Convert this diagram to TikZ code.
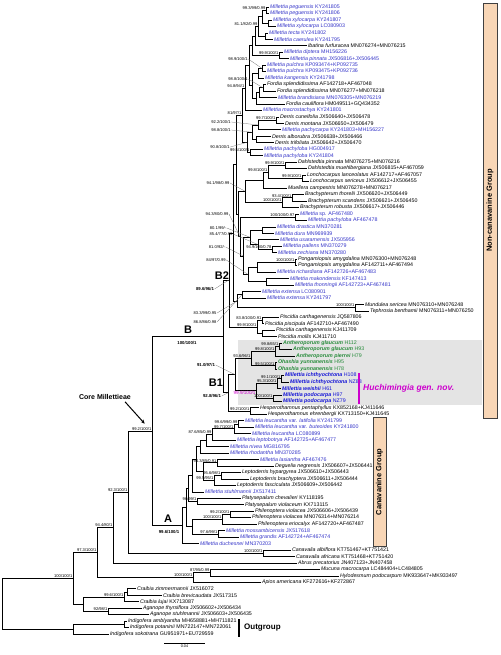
\documentclass[tikz,border=0pt]{standalone}
\usepackage{fontspec}
\setmainfont{Liberation Sans}
\usetikzlibrary{calc,arrows.meta}
\definecolor{milblue}{RGB}{52,52,200}
\definecolor{hucblue}{RGB}{20,20,215}
\definecolor{antgreen}{RGB}{40,140,60}
\definecolor{hmag}{RGB}{205,0,205}
\definecolor{beige}{RGB}{248,214,182}
\definecolor{hgray}{RGB}{228,228,228}

% join of two children, placed half way between them
\newcommand\tclade[4]{%
  \path let \p1=($(#3.west)!0.5!(#4.west)$) in (#2pt,\y1) node[jn] (#1) {};
  \draw[br] (#1.center) |- (#3.west);
  \draw[br] (#1.center) |- (#4.west);
}
% support value at a join
\newcommand\sv[3][]{\node[sup,anchor=south east,#1] (s#2) at (#2.center) {#3};}
\newcommand\svl[4][]{\node[sup,#1] (s#2) at (#3) {#4};\draw[lead] (s#2.east) -- (#2.center);}

\begin{document}
\begin{tikzpicture}[x=1pt,y=-1pt,
  br/.style={line width=0.6pt},
  jn/.style={inner sep=0pt,outer sep=0pt,minimum size=0pt},
  leaf/.style={anchor=west,inner sep=0.8pt,font=\fontsize{5.3}{5.5}\selectfont},
  mil/.style={text=milblue},
  gre/.style={text=antgreen},
  huc/.style={text=hucblue},
  sup/.style={inner sep=0.4pt,font=\fontsize{4.1}{4.2}\selectfont},
  bsup/.style={font=\fontsize{4.3}{4.4}\bfseries\selectfont},
  lead/.style={line width=0.25pt,black!60},
  big/.style={inner sep=0pt,font=\fontsize{11}{11}\bfseries\selectfont},
  grpbox/.style={draw=black!75,fill=beige,line width=0.6pt,rotate=90,inner sep=0pt,font=\fontsize{7.5}{8}\bfseries\selectfont}]
\useasboundingbox (0,0) rectangle (500,655);

% backgrounds
\fill[hgray] (238,339.5) rectangle (482,404.5);
\node[grpbox,minimum width=415pt,minimum height=14pt] (gNon) at (490,210.5) {Non-canavanine Group};
\node[grpbox,minimum width=129pt,minimum height=13pt] (gCan) at (379.5,482) {Canavanine Group};

% tips
\node[leaf,mil] (peg1) at (269,7.0) {\textit{Millettia peguensis} KY241805};
\node[leaf,mil] (peg2) at (269,13.5) {\textit{Millettia peguensis} KY241806};
\node[leaf,mil] (xyl1) at (272,19.9) {\textit{Millettia xylocarpa} KY241807};
\node[leaf,mil] (xyl2) at (276,26.4) {\textit{Millettia xylocarpa} LC080903};
\node[leaf,mil] (tec) at (268,32.9) {\textit{Millettia tecta} KY241802};
\node[leaf,mil] (cae) at (273,39.3) {\textit{Millettia caerulea} KY241795};
\node[leaf] (iba) at (307,45.8) {\textit{Ibatina furfuracea} MN076274+MN076215};
\node[leaf,mil] (dip) at (283,52.2) {\textit{Millettia diptera} MH156226};
\node[leaf,mil] (pin) at (289,58.7) {\textit{Millettia pinnata} JX506816+JX506445};
\node[leaf,mil] (pul1) at (266,65.2) {\textit{Millettia pulchra} KP093474+KP092735};
\node[leaf,mil] (pul2) at (266,71.6) {\textit{Millettia pulchra} KP093475+KP092736};
\node[leaf,mil] (kan) at (264,78.1) {\textit{Millettia kangensis} KY241798};
\node[leaf] (fsp1) at (266,84.6) {\textit{Fordia splendidissima} AF142718+AF467048};
\node[leaf] (fsp2) at (276,91.0) {\textit{Fordia splendidissima} MN076277+MN076218};
\node[leaf,mil] (bra) at (277,97.5) {\textit{Millettia brandisiana} MN076305+MN076219};
\node[leaf] (cau) at (285,104.0) {\textit{Fordia cauliflora} HM049511+GQ434352};
\node[leaf,mil] (mac) at (262,110.4) {\textit{Millettia macrostachya} KY241801};
\node[leaf] (cun) at (279,116.9) {\textit{Derris cuneifolia} JX506640+JX506478};
\node[leaf] (mon) at (284,123.3) {\textit{Derris montana} JX506650+JX506479};
\node[leaf,mil] (pac) at (281,129.8) {\textit{Millettia pachycarpa} KY241803+MH156227};
\node[leaf] (alb) at (271,136.3) {\textit{Derris alborubra} JX506638+JX506466};
\node[leaf] (tri) at (274,142.7) {\textit{Derris trifoliata} JX506642+JX506470};
\node[leaf,mil] (pl1) at (263,149.2) {\textit{Millettia pachyloba} HG004917};
\node[leaf,mil] (pl2) at (263,155.7) {\textit{Millettia pachyloba} KY241804};
\node[leaf] (dpi) at (297,162.1) {\textit{Dahlstedtia pinnata} MN076275+MN076216};
\node[leaf] (dmu) at (307,168.6) {\textit{Dahlstedtia muehlbergiana} JX506815+AF467059};
\node[leaf] (lla) at (306,175.1) {\textit{Lonchocarpus lanceolatus} AF142717+AF467057};
\node[leaf] (lse) at (309,181.5) {\textit{Lonchocarpus sericeus} JX506612+JX506455};
\node[leaf] (mca) at (287,188.0) {\textit{Muellera campestris} MN076278+MN076217};
\node[leaf] (bth) at (304,194.5) {\textit{Brachypterum thorelii} JX506620+JX506449};
\node[leaf] (bsc) at (307,200.9) {\textit{Brachypterum scandens} JX506621+JX506450};
\node[leaf] (bro) at (299,207.4) {\textit{Brachypterum robusta} JX506617+JX506446};
\node[leaf,mil] (msp) at (299,213.8) {\textit{Millettia} sp. AF467480};
\node[leaf,mil] (pla) at (307,220.3) {\textit{Millettia pachyloba} AF467478};
\node[leaf,mil] (dra) at (276,226.8) {\textit{Millettia drastica} MN370281};
\node[leaf,mil] (dur) at (274,233.2) {\textit{Millettia dura} MN969939};
\node[leaf,mil] (usa) at (279,239.7) {\textit{Millettia usaramensis} JX505956};
\node[leaf,mil] (pal) at (282,246.2) {\textit{Millettia pallens} MN370279};
\node[leaf,mil] (zec) at (277,252.6) {\textit{Millettia zechiana} MN370280};
\node[leaf] (pam1) at (297,259.1) {\textit{Pongamiopsis amygdalina} MN076300+MN076248};
\node[leaf] (pam2) at (297,265.5) {\textit{Pongamiopsis amygdalina} AF142711+AF467494};
\node[leaf,mil] (ric) at (276,272.0) {\textit{Millettia richardiana} AF142726+AF467483};
\node[leaf,mil] (mak) at (289,278.5) {\textit{Millettia makondensis} KF147413};
\node[leaf,mil] (tho) at (294,284.9) {\textit{Millettia thonningii} AF142723+AF467481};
\node[leaf,mil] (ext1) at (261,291.4) {\textit{Millettia extensa} LC080901};
\node[leaf,mil] (ext2) at (266,297.9) {\textit{Millettia extensa} KY241797};
\node[leaf] (mun) at (364,304.3) {\textit{Mundulea sericea} MN076310+MN076248};
\node[leaf] (tep) at (369,310.8) {\textit{Tephrosia benthamii} MN076311+MN076250};
\node[leaf] (pca1) at (279,317.3) {\textit{Piscidia carthagenensis} JQ587806};
\node[leaf] (ppi) at (264,323.7) {\textit{Piscidia piscipula} AF142710+AF467490};
\node[leaf] (pca2) at (275,330.2) {\textit{Piscidia carthagenensis} KJ411709};
\node[leaf] (pmo) at (277,336.6) {\textit{Piscidia mollis} KJ411710};
\node[leaf,gre] (ag1) at (282,343.1) {\textbf{\textit{Antheroporum glaucum}} H112};
\node[leaf,gre] (ag2) at (292,349.6) {\textbf{\textit{Antheroporum glaucum}} H93};
\node[leaf,gre] (apr) at (295,356.0) {\textbf{\textit{Antheroporum pierrei}} H79};
\node[leaf,gre] (oy1) at (277,362.5) {\textbf{\textit{Ohashia yunnanensis}} H95};
\node[leaf,gre] (oy2) at (277,369.0) {\textbf{\textit{Ohashia yunnanensis}} H78};
\node[leaf,huc] (mi1) at (284,375.4) {\textbf{\textit{Millettia ichthyochtona}} H108};
\node[leaf,huc] (mi2) at (289,381.9) {\textbf{\textit{Millettia ichthyochtona}} NZ88};
\node[leaf,huc] (mwe) at (281,388.4) {\textbf{\textit{Millettia weishii}} H61};
\node[leaf,huc] (mp1) at (282,394.8) {\textbf{\textit{Millettia podocarpa}} H97};
\node[leaf,huc] (mp2) at (282,401.3) {\textbf{\textit{Millettia podocarpa}} NZ79};
\node[leaf] (hpe) at (259,407.7) {\textit{Hesperothamnus pentaphyllus} KX852168+KJ411646};
\node[leaf] (heh) at (267,414.2) {\textit{Hesperothamnus ehrenbergii} KX713150+KJ411645};
\node[leaf,mil] (ml1) at (244,420.7) {\textit{Millettia leucantha} var. \textit{latifolia} KY241799};
\node[leaf,mil] (ml2) at (254,427.1) {\textit{Millettia leucantha} var. \textit{buteoides} KY241800};
\node[leaf,mil] (ml3) at (251,433.6) {\textit{Millettia leucantha} LC080899};
\node[leaf,mil] (mle) at (236,440.1) {\textit{Millettia leptobotrya} AF142725+AF467477};
\node[leaf,mil] (mni) at (229,446.5) {\textit{Millettia nivea} MG816795};
\node[leaf,mil] (mrh) at (229,453.0) {\textit{Millettia rhodantha} MN370285};
\node[leaf,mil] (mla) at (259,459.5) {\textit{Millettia lasiantha} AF467476};
\node[leaf] (dne) at (274,465.9) {\textit{Deguelia negrensis} JX506607+JX506441};
\node[leaf] (lhy) at (241,472.4) {\textit{Leptoderris hypargyrea} JX506610+JX506443};
\node[leaf] (lbr) at (249,478.8) {\textit{Leptoderris brachyptera} JX506611+JX506444};
\node[leaf] (lfa) at (236,485.3) {\textit{Leptoderris fasciculata} JX506609+JX506442};
\node[leaf,mil] (mst) at (204,491.8) {\textit{Millettia stuhlmannii} JX517411};
\node[leaf] (pch) at (241,498.2) {\textit{Platysepalum chevalieri} KY118195};
\node[leaf] (pvi) at (244,504.7) {\textit{Platysepalum violaceum} KX713115};
\node[leaf] (phv1) at (254,511.2) {\textit{Philenoptera violacea} JX506606+JX506439};
\node[leaf] (phv2) at (251,517.6) {\textit{Philenoptera violacea} MN076314+MN076214};
\node[leaf] (per) at (257,524.1) {\textit{Philenoptera eriocalyx} AF142720+AF467487};
\node[leaf,mil] (mmo) at (225,530.6) {\textit{Millettia mossambicensis} JX517618};
\node[leaf,mil] (mgr) at (239,537.0) {\textit{Millettia grandis} AF142724+AF467474};
\node[leaf,mil] (mdu) at (199,543.5) {\textit{Millettia duchesnei} MN370203};
\node[leaf] (cal) at (291,550.0) {\textit{Canavalia albiflora} KT751467+KT751421};
\node[leaf] (caf) at (295,556.4) {\textit{Canavalia africana} KT751468+KT751420};
\node[leaf] (abr) at (297,562.9) {\textit{Abrus precatorius} JN407123+JN407458};
\node[leaf] (muc) at (320,569.3) {\textit{Mucuna macrocarpa} LC484404+LC484805};
\node[leaf] (hyl) at (339,575.8) {\textit{Hylodesmum podocarpum} MK933647+MK933497};
\node[leaf] (apa) at (261,582.3) {\textit{Apios americana} KF272616+KF272867};
\node[leaf] (czi) at (136,588.7) {\textit{Craibia zimmermannii} JX516072};
\node[leaf] (cbr) at (162,595.2) {\textit{Craibia brevicaudata} JX517315};
\node[leaf] (clu) at (139,601.7) {\textit{Craibia lujai} KX713087};
\node[leaf] (ath) at (142,608.1) {\textit{Aganope thyrsiflora} JX506602+JX506434};
\node[leaf] (ast) at (149,614.6) {\textit{Aganope stuhlmannii} JX506603+JX506435};
\node[leaf] (iam) at (127,621.1) {\textit{Indigofera amblyantha} MH658881+MH711821};
\node[leaf] (ipo) at (129,627.5) {\textit{Indigofera potaninii} MN722147+MN722061};
\node[leaf] (iso) at (109,634.0) {\textit{Indigofera sokotrana} GU951971+EU729559};

% B2
\tclade{A1}{266}{peg1}{peg2}
\tclade{A2}{268}{xyl1}{xyl2}
\tclade{A3}{262}{A1}{A2}
\tclade{A4}{265}{tec}{cae}
\tclade{A5}{258}{A3}{A4}
\tclade{A6}{255}{A5}{iba}
\tclade{A7}{279}{dip}{pin}
\tclade{A8}{252}{A6}{A7}
\tclade{G1}{262}{pul1}{pul2}
\tclade{G2}{258}{G1}{kan}
\tclade{F1}{263}{fsp1}{fsp2}
\tclade{F2}{259}{F1}{bra}
\tclade{F3}{256}{F2}{cau}
\tclade{H1}{252.5}{G2}{F3}
\tclade{H2}{249}{A8}{H1}
\tclade{H3}{245}{H2}{mac}
\tclade{D1}{276}{cun}{mon}
\tclade{D2}{258}{D1}{pac}
\tclade{D3}{256}{alb}{tri}
\tclade{D4}{252}{D2}{D3}
\tclade{D5}{250}{pl1}{pl2}
\tclade{D6}{247}{D4}{D5}
\tclade{X}{242}{H3}{D6}
\tclade{Y1}{285}{dpi}{dmu}
\tclade{Y2}{302}{lla}{lse}
\tclade{Y3}{268}{Y1}{Y2}
\tclade{Y4}{263}{Y3}{mca}
\tclade{Y5}{292}{bth}{bsc}
\tclade{Y6}{282}{Y5}{bro}
\tclade{Y7}{245}{Y4}{Y6}
\tclade{Z1}{295}{msp}{pla}
\tclade{Z4}{262}{dra}{dur}
\tclade{Z2}{272}{pal}{zec}
\tclade{Z3}{258}{usa}{Z2}
\tclade{Z5}{250}{Z4}{Z3}
\tclade{Z6}{295}{pam1}{pam2}
\tclade{Z7}{257}{Z6}{ric}
\tclade{Z8}{266}{mak}{tho}
\tclade{Z9}{248}{Z7}{Z8}
\tclade{Z10}{243}{Z5}{Z9}
\tclade{Z11}{240}{Z1}{Z10}
\tclade{YZ}{238}{Y7}{Z11}
\tclade{Q0}{236}{X}{YZ}
\tclade{E}{242}{ext1}{ext2}
\tclade{MT}{355}{mun}{tep}
\tclade{Q1}{237}{E}{MT}
\tclade{Q2}{233}{Q0}{Q1}
\tclade{P1}{262}{pca1}{ppi}
\tclade{P2}{262}{pca2}{pmo}
\tclade{P}{257}{P1}{P2}
\tclade{B2}{229}{Q2}{P}
% B1
\tclade{b1}{279}{ag1}{ag2}
\tclade{b2}{275}{b1}{apr}
\tclade{b3}{275}{oy1}{oy2}
\tclade{b4}{251}{b2}{b3}
\tclade{b5}{281}{mi1}{mi2}
\tclade{b6}{277}{b5}{mwe}
\tclade{b7}{273}{mp1}{mp2}
\tclade{b8}{256}{b6}{b7}
\tclade{b9}{235}{b4}{b8}
\tclade{b10}{250}{hpe}{heh}
\tclade{B1}{228}{b9}{b10}
\tclade{B}{223}{B2}{B1}
% A
\tclade{a1}{238}{ml1}{ml2}
\tclade{a2}{234}{a1}{ml3}
\tclade{a3}{212}{a2}{mle}
\tclade{a4}{206}{a3}{mni}
\tclade{a5}{200}{a4}{mrh}
\tclade{a6}{217}{mla}{dne}
\tclade{a7}{221}{lhy}{lbr}
\tclade{a8}{214}{a7}{lfa}
\tclade{a9}{203}{a6}{a8}
\tclade{a10}{196}{a5}{a9}
\tclade{a11}{192}{a10}{mst}
\tclade{a12}{197}{pch}{pvi}
\tclade{a13}{230}{phv1}{phv2}
\tclade{a14}{222}{a13}{per}
\tclade{a15}{218}{mmo}{mgr}
\tclade{a16}{192}{a14}{a15}
\tclade{a17}{188}{a11}{a12}
\tclade{a18}{186}{a17}{a16}
\tclade{A}{182}{a18}{mdu}
% backbone
\tclade{Core}{152}{B}{A}
\tclade{CV}{263}{cal}{caf}
\tclade{K}{128}{Core}{CV}
\tclade{N3}{113}{K}{abr}
\tclade{MH}{210}{muc}{hyl}
\tclade{AP}{193}{MH}{apa}
\tclade{N2}{97}{N3}{AP}
\tclade{C1}{127}{czi}{cbr}
\tclade{C2}{124}{C1}{clu}
\tclade{AG}{108}{ath}{ast}
\tclade{CA}{83}{C2}{AG}
\tclade{N1}{73}{N2}{CA}
\tclade{I1}{124}{iam}{ipo}
\tclade{I2}{73}{I1}{iso}
\tclade{R}{2}{N1}{I2}

% support values
\sv{A1}{99.3/99/0.99}
\sv{A5}{81.1/82/0.99}
\sv{A7}{99.9/100/1}
\svl{G1}{238,59}{98.9/100/1}
\svl{F1}{238,79}{98.8/100/1}
\sv{H3}{94.8/94/1}
\sv{X}{81/97/1}
\svl{D2}{221,122}{92.2/100/1}
\svl{D4}{221,130}{98.8/100/1}
\sv{D1}{99.7/100/1}
\svl{D6}{220,147}{90.8/100/1}
\sv{D5}{99.5/100/1}
\sv{Y1}{99.9/100/1}
\sv{Y2}{99.9/100/1}
\sv{Y3}{99.8/100/1}
\sv{Y5}{93.4/100/1}
\sv{Y6}{100/100/1}
\svl{Y7}{218,183}{94.1/98/0.99}
\sv{Z1}{100/100/0.97}
\svl{Z11}{217,214}{94.3/80/0.99}
\svl{Z5}{218,228}{80.1/99/-}
\svl{Z3}{221,234}{85.4/77/0.93}
\sv{Z2}{94.9/100/0.78}
\svl{Z10}{217,247}{81.0/92/-}
\sv{Z6}{100/100/1}
\svl{Z9}{216,260}{84/97/0.99}
\svl[bsup]{B2}{205,289}{89.6/96/1}
\svl{Q1}{205,313}{83.3/99/0.95}
\svl{E}{205,322}{86.8/86/0.98}
\sv{MT}{100/100/1}
\sv{P1}{83.8/100/0.91}
\sv{P}{99.9/100/1}
\sv{b1}{99.8/65/1}
\sv{b2}{99.8/100/1}
\sv{b3}{99.5/100/1}
\sv{b4}{93.6/96/1}
\svl[bsup]{b9}{206,365}{91.0/97/1}
\sv{b5}{99.1/100/1}
\sv{b6}{95.3/100/1}
\sv[anchor=north east,text=hmag,font=\fontsize{4.6}{4.6}\selectfont]{b8}{99.9/100/1}
\sv{b7}{100/100/1}
\sv{b10}{99.2/100/1}
\svl[bsup]{B1}{212,396}{92.8/96/1}
\sv{a1}{99.6/99/0.99}
\sv{a2}{99.7/100/1}
\sv{a3}{87.6/85/0.99}
\sv{a6}{94.3/85/0.91}
\sv{a7}{95.6/98/1}
\sv{a8}{99.5/95/1}
\sv{a12}{96/99/1}
\sv{a13}{99.2/100/1}
\sv{a14}{100/100/1}
\sv{a15}{97.6/99/1}
\sv{Core}{99.2/100/1}
\sv{K}{92.3/100/1}
\sv{N3}{94.4/80/1}
\sv{N2}{97.3/100/1}
\sv{CV}{100/100/1}
\sv{MH}{87/95/0.99}
\sv{AP}{100/100/1}
\sv{N1}{100/100/1}
\sv{C2}{99.6/100/1}
\sv{AG}{92/98/1}

% clade names
\node[big] (lB2) at (222,276) {B2};
\node[big] (lB) at (188,330) {B};
\node[sup,bsup] (sB) at (187,343) {100/100/1};
\node[big] (lB1) at (216,383) {B1};
\node[big] (lA) at (168,519) {A};
\node[sup,bsup] (sA) at (169,532) {99.6/100/1};
\node[inner sep=0pt,font=\fontsize{7}{7}\bfseries\selectfont] (cm) at (105,397) {Core Millettieae};
\draw[line width=1pt,-{Stealth[length=4pt,width=3.5pt]}] ([xshift=20pt,yshift=-2pt]cm.south) -- ([xshift=3pt,yshift=3pt]sCore.north);

% Huchimingia
\draw[hmag,line width=2pt] (359,373) -- (359,404);
\node[anchor=west,inner sep=0pt,text=hmag,font=\fontsize{8.5}{9}\bfseries\itshape\selectfont] (huc) at (363,388.5) {Huchimingia gen. nov.};

% outgroup
\draw[line width=2pt] (239,619) -- (239,637);
\node[anchor=west,inner sep=0pt,font=\fontsize{8}{8}\bfseries\selectfont] (og) at (244,627.5) {Outgroup};

% scale
\coordinate (sc1) at (164,643);
\coordinate (sc2) at (205,643);
\draw[br] (sc1) -- node[below=1.5pt,inner sep=0pt,font=\fontsize{3.8}{4}\selectfont] (scl) {0.04} (sc2);
\end{tikzpicture}
\end{document}
